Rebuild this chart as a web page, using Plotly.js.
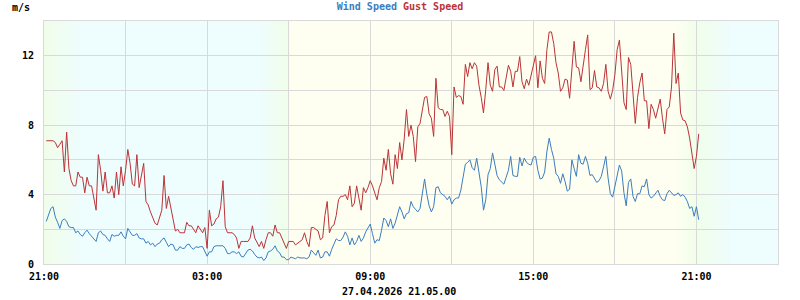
<!DOCTYPE html>
<html>
<head>
<meta charset="utf-8">
<script src="https://cdn.plot.ly/plotly-3.0.1.min.js"></script>
<style>
  html, body { margin: 0; padding: 0; background: #ffffff; }
  #chart { width: 800px; height: 300px; }
</style>
</head>
<body>
<div id="chart"></div>
<script>
// ---- data (5-minute samples, m/s) ----
const startTime = '2026-04-26T21:05:00Z';
const stepMinutes = 5;

const windSpeed = [
  2.45,2.8,3.2,3.3,2.7,2.4,2.05,2.5,2.6,2.45,2.15,2.1,2.1,1.8,1.9,1.7,1.6,1.8,1.95,1.75,
  1.6,1.45,1.3,1.8,1.9,1.7,1.65,1.45,1.3,1.7,1.6,1.65,1.65,1.85,1.6,1.45,2.05,1.85,1.65,1.65,
  1.75,1.5,1.45,1.45,1.2,1.3,1.1,1.2,1.0,1.15,1.2,1.4,1.5,1.25,1.0,1.15,1.1,0.8,0.8,1.0,
  0.9,0.9,1.1,1.15,0.95,0.85,1.0,0.95,1.0,1.0,0.7,0.45,0.7,0.7,1.0,1.05,1.05,1.05,1.05,0.9,
  0.6,0.6,0.7,0.7,0.6,0.7,0.45,0.4,0.6,0.8,0.85,0.75,0.55,0.4,0.35,0.4,0.2,0.35,0.7,0.75,
  0.85,1.05,0.75,0.65,0.4,0.4,0.25,0.25,0.4,0.35,0.3,0.4,0.35,0.35,0.35,0.3,0.4,0.8,0.65,0.5,
  0.8,0.35,0.4,0.7,0.7,0.45,0.85,1.2,1.45,1.35,1.35,1.55,1.85,1.6,1.1,1.5,1.1,1.3,1.65,1.3,
  1.5,1.85,2.05,2.3,1.75,1.2,1.4,1.35,1.95,2.65,2.5,2.15,2.6,2.05,2.35,2.9,3.3,3.0,2.6,2.9,
  2.95,3.6,3.3,3.15,3.0,3.2,4.0,4.9,4.0,3.35,3.0,3.3,4.4,4.45,4.1,4.0,3.9,3.7,3.9,3.45,
  3.7,3.8,3.8,4.25,5.05,5.75,5.85,6.0,5.55,5.4,6.1,5.3,4.45,3.1,3.7,5.15,5.5,6.4,5.8,5.1,
  4.85,4.75,4.6,5.0,5.4,6.2,5.1,5.05,5.05,6.15,5.65,6.1,5.85,5.75,5.7,6.15,6.2,5.4,4.9,4.95,
  5.3,6.5,7.25,6.6,6.1,5.2,5.05,4.65,5.2,4.75,4.2,4.3,6.0,5.5,5.05,6.3,5.8,5.75,6.2,5.8,
  5.1,5.15,4.95,4.7,4.8,5.05,5.6,6.2,4.95,4.05,3.85,4.45,4.9,5.7,5.35,4.1,3.35,4.7,4.9,3.9,
  3.6,4.05,4.05,4.5,4.45,4.9,4.0,3.8,3.9,4.1,4.25,3.9,3.7,3.65,4.05,4.25,4.1,3.95,4.0,4.1,
  3.9,4.0,3.85,3.6,3.2,3.3,2.75,3.3,2.55
];

const gustSpeed = [
  7.1,7.1,7.1,7.1,7.0,6.7,6.9,7.1,5.3,7.6,5.5,4.8,4.5,4.5,5.3,5.0,5.0,4.1,5.0,4.5,
  4.5,3.9,3.1,6.3,5.4,4.2,5.3,4.1,4.1,4.5,3.8,5.3,4.0,5.6,4.5,5.4,6.6,5.8,4.6,4.5,
  6.3,4.4,5.0,5.8,3.6,3.4,3.0,2.7,2.35,2.25,2.7,3.1,5.1,3.2,3.9,3.3,2.5,1.9,2.0,1.8,
  1.8,1.8,2.4,2.2,2.2,2.0,1.8,2.2,2.0,1.8,2.1,0.9,3.1,2.2,2.3,2.6,2.7,3.3,4.8,2.15,
  1.8,1.8,1.8,1.7,1.5,0.9,1.3,1.3,1.3,1.3,1.5,2.2,1.5,1.2,1.0,1.3,0.9,1.4,1.8,1.8,
  1.6,2.25,1.8,1.8,1.5,1.3,0.9,1.3,1.3,1.3,1.1,1.2,1.3,1.4,1.8,1.3,1.0,2.1,2.1,2.0,
  1.9,1.4,1.5,2.8,3.6,1.8,2.15,2.25,2.8,3.7,3.9,3.9,4.0,3.7,4.5,3.3,3.5,4.5,3.7,3.1,
  4.4,4.1,4.4,4.8,4.5,4.1,3.7,4.4,4.75,6.1,5.4,6.6,5.2,4.6,6.3,5.5,7.0,6.0,7.2,8.9,
  7.35,8.0,7.35,5.9,7.9,8.1,8.85,9.6,9.65,8.65,8.4,7.35,10.7,9.0,8.9,8.9,8.5,8.8,8.5,6.3,
  10.2,9.6,9.7,9.65,9.2,11.5,10.8,11.6,11.25,11.6,11.4,10.3,9.6,8.7,10.05,11.6,10.3,9.95,11.2,11.4,
  10.2,10.2,10.0,10.7,11.45,11.1,10.2,11.1,11.1,11.95,10.5,10.1,10.65,10.3,10.85,11.5,12.0,10.15,11.7,10.7,
  10.4,12.35,13.37,13.37,12.7,11.6,11.0,9.95,10.15,10.65,10.6,9.55,11.4,12.83,11.35,11.3,10.5,11.3,12.35,13.2,
  10.05,10.15,11.15,10.2,10.15,9.95,10.4,11.5,9.95,9.5,10.0,10.9,12.35,12.9,11.0,9.3,8.9,11.9,11.5,9.85,
  8.1,9.6,10.45,11.0,9.4,9.4,7.8,9.2,8.9,8.4,9.0,9.5,8.4,7.5,8.9,9.05,10.2,13.3,10.4,11.0,
  8.7,8.3,8.25,7.9,7.25,6.5,5.5,6.2,7.5
];

const seriesNames = ['Wind Speed', 'Gust Speed'];
const seriesColors = ['#3b7dc0', '#bb3338'];
const xTickLabelFormat = '%H:%M';
const yTickValues = [0, 4, 8, 12];
const unitLabel = 'm/s';
const stampLabel = '27.04.2026 21.05.00';

// ---- build timestamps ----
function ts(i) {
  const d = new Date(Date.parse(startTime) + i * stepMinutes * 60000);
  const p = n => String(n).padStart(2, '0');
  return d.getUTCFullYear() + '-' + p(d.getUTCMonth() + 1) + '-' + p(d.getUTCDate()) +
         ' ' + p(d.getUTCHours()) + ':' + p(d.getUTCMinutes()) + ':00';
}
const times = windSpeed.map((_, i) => ts(i));

// ---- background day/night gradient as an svg image ----
const bgStops = [
  [0.000, '#f1fdea'], [0.049, '#eefdfd'], [0.295, '#eefdfd'],
  [0.332, '#f0feea'], [0.336, '#fefff0'], [0.860, '#fefff0'],
  [0.889, '#f0feea'], [0.935, '#eefdfd'], [1.000, '#eefdfd']
];
const svg = '<svg xmlns="http://www.w3.org/2000/svg" width="734" height="243" preserveAspectRatio="none">' +
  '<defs><linearGradient id="g" x1="0" y1="0" x2="1" y2="0">' +
  bgStops.map(s => '<stop offset="' + s[0] + '" stop-color="' + s[1] + '"/>').join('') +
  '</linearGradient></defs><rect width="734" height="243" fill="url(#g)"/></svg>';
const bgUri = 'data:image/svg+xml;base64,' + btoa(svg);

const mono = 'DejaVu Sans Mono, monospace';
const gridColor = '#d9d9d9';

const traces = [
  {
    x: times, y: windSpeed, name: seriesNames[0], type: 'scatter', mode: 'lines',
    line: { color: seriesColors[0], width: 1, shape: 'linear' }, hoverinfo: 'skip'
  },
  {
    x: times, y: gustSpeed, name: seriesNames[1], type: 'scatter', mode: 'lines',
    line: { color: seriesColors[1], width: 1, shape: 'linear' }, hoverinfo: 'skip'
  }
];

const layout = {
  width: 800, height: 300,
  margin: { l: 44, r: 22, t: 21, b: 36, pad: 0 },
  paper_bgcolor: '#ffffff', plot_bgcolor: '#ffffff',
  showlegend: false,
  font: { family: mono, size: 10, color: '#000000' },
  title: {
    text: '<span style="color:' + seriesColors[0] + '">' + seriesNames[0] + '</span> ' +
          '<span style="color:' + seriesColors[1] + '">' + seriesNames[1] + '</span>',
    font: { family: mono, size: 10, weight: 'bold' },
    xref: 'container', x: 0.5, xanchor: 'center',
    yref: 'container', y: 0.98, yanchor: 'middle'
  },
  xaxis: {
    type: 'date',
    range: ['2026-04-26 21:00:00', '2026-04-28 00:00:00'],
    tick0: '2026-04-26 21:00:00', dtick: 6 * 3600000,
    tickformat: xTickLabelFormat,
    showgrid: true, gridcolor: gridColor, gridwidth: 1,
    minor: { dtick: 3 * 3600000, tick0: '2026-04-26 21:00:00', showgrid: true, gridcolor: gridColor, gridwidth: 1 },
    showline: true, linecolor: gridColor, linewidth: 1, mirror: true,
    zeroline: false, ticks: '', ticklabelstandoff: 3,
    tickfont: { family: mono, size: 10, color: '#000', weight: 'bold' },
    fixedrange: true
  },
  yaxis: {
    range: [0, 14],
    tickmode: 'array', tickvals: yTickValues, ticktext: yTickValues.map(String),
    showgrid: true, gridcolor: gridColor, gridwidth: 1,
    minor: { dtick: 2, tick0: 0, showgrid: true, gridcolor: gridColor, gridwidth: 1 },
    showline: true, linecolor: gridColor, linewidth: 1, mirror: true,
    zeroline: false, ticks: '', ticklabelstandoff: 7,
    tickfont: { family: mono, size: 10, color: '#000', weight: 'bold' },
    fixedrange: true
  },
  images: [{
    source: bgUri, xref: 'paper', yref: 'paper', x: 0, y: 1, sizex: 1, sizey: 1,
    xanchor: 'left', yanchor: 'top', sizing: 'stretch', layer: 'below'
  }],
  annotations: [
    {
      text: unitLabel, xref: 'paper', yref: 'paper',
      x: (10 - 44) / 734, y: (264 - 7) / 243, xanchor: 'left', yanchor: 'middle',
      showarrow: false, font: { family: mono, size: 10, color: '#000', weight: 'bold' }
    },
    {
      text: stampLabel, xref: 'paper', yref: 'paper',
      x: (399 - 44) / 734, y: (264 - 291) / 243, xanchor: 'center', yanchor: 'middle',
      showarrow: false, font: { family: mono, size: 10, color: '#000', weight: 'bold' }
    }
  ]
};

Plotly.newPlot('chart', traces, layout, { staticPlot: true, displayModeBar: false });
</script>
</body>
</html>
